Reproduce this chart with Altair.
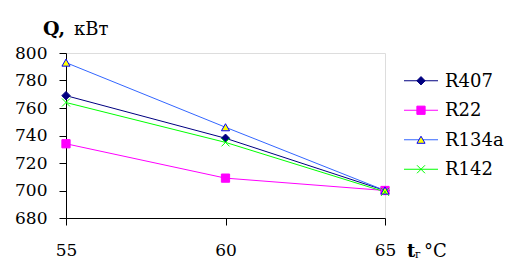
import altair as alt
import pandas as pd

# ---- data ----
temps = [55, 60, 65]
series_names = ["R407", "R22", "R134a", "R142"]
q_r407 = [769, 738, 700]
q_r22 = [734, 709, 700]
q_r134a = [793, 746, 700]
q_r142 = [764, 735, 699]
y_ticks = [680, 700, 720, 740, 760, 780, 800]

values = {"R407": q_r407, "R22": q_r22, "R134a": q_r134a, "R142": q_r142}
rows = []
for i, name in enumerate(series_names):
    for t, q in zip(temps, values[name]):
        rows.append({"series": name, "t": t, "q": q, "ord": i})
df = pd.DataFrame(rows)
legend_df = pd.DataFrame({"series": series_names, "ord": list(range(len(series_names)))})

# ---- styles ----
FONT = "DejaVu Serif"
line_colors = ["#000080", "#ff00ff", "#3366ff", "#00ff00"]
fill_colors = ["#000080", "#ff00ff", "#ffff00", "transparent"]
stroke_colors = ["#000080", "#ff00ff", "#0000ff", "#00ff00"]
X_PATH = "M-1,-1L1,1M-1,1L1,-1"
shapes = ["diamond", "square", "triangle-up", X_PATH]
sizes = [70, 64, 90, 64]

W, H = 319, 165

color_scale = alt.Scale(domain=series_names, range=line_colors)
fill_scale = alt.Scale(domain=series_names, range=fill_colors)
stroke_scale = alt.Scale(domain=series_names, range=stroke_colors)
shape_scale = alt.Scale(domain=series_names, range=shapes)
size_scale = alt.Scale(domain=series_names, range=sizes)

x_enc = alt.X(
    "t:Q",
    scale=alt.Scale(domain=[55, 65], nice=False),
    axis=alt.Axis(values=temps, title=None, grid=False, tickSize=7, labelPadding=17,
                  labelFont=FONT, labelFontSize=17, labelColor="black",
                  domainColor="black", tickColor="black", labelFlush=False),
)
y_enc = alt.Y(
    "q:Q",
    scale=alt.Scale(domain=[680, 800], nice=False, zero=False),
    axis=alt.Axis(values=y_ticks, title=None, grid=False, tickSize=7, labelPadding=12,
                  labelFont=FONT, labelFontSize=17, labelColor="black",
                  domainColor="black", tickColor="black"),
)

lines = alt.Chart(df).mark_line(strokeWidth=1).encode(
    x=x_enc, y=y_enc,
    color=alt.Color("series:N", scale=color_scale, legend=None),
    order="ord:Q",
)
points = alt.Chart(df).mark_point(filled=False, strokeWidth=1, opacity=1).encode(
    x=x_enc, y=y_enc,
    shape=alt.Shape("series:N", scale=shape_scale, legend=None),
    fill=alt.Fill("series:N", scale=fill_scale, legend=None),
    stroke=alt.Stroke("series:N", scale=stroke_scale, legend=None),
    size=alt.Size("series:N", scale=size_scale, legend=None),
    order="ord:Q",
)

# titles
title_q = alt.Chart(pd.DataFrame({"txt": ["Q,"]})).mark_text(
    font=FONT, fontSize=19, fontWeight="bold", align="left", baseline="alphabetic", color="black"
).encode(text="txt:N", x=alt.value(-23), y=alt.value(-18))
title_unit = alt.Chart(pd.DataFrame({"txt": ["кВт"]})).mark_text(
    font=FONT, fontSize=18, align="left", baseline="alphabetic", color="black"
).encode(text="txt:N", x=alt.value(8), y=alt.value(-18))
xl_t = alt.Chart(pd.DataFrame({"txt": ["t"]})).mark_text(
    font=FONT, fontSize=18, fontWeight="bold", align="left", baseline="alphabetic", color="black"
).encode(text="txt:N", x=alt.value(341), y=alt.value(204))
xl_sub = alt.Chart(pd.DataFrame({"txt": ["г"]})).mark_text(
    font=FONT, fontSize=11, align="left", baseline="alphabetic", color="black"
).encode(text="txt:N", x=alt.value(349), y=alt.value(205))
xl_c = alt.Chart(pd.DataFrame({"txt": ["°C"]})).mark_text(
    font=FONT, fontSize=18, align="left", baseline="alphabetic", color="black"
).encode(text="txt:N", x=alt.value(358), y=alt.value(204))

main = alt.layer(lines, points, title_q, title_unit, xl_t, xl_sub, xl_c)

# ---- manual legend ----
lx = alt.Scale(domain=[0, 1], range=[338, 372])
ly = alt.Y("series:N", scale=alt.Scale(type="point", domain=series_names, range=[13, 131]), axis=None)
leg_rule = alt.Chart(legend_df).mark_rule(strokeWidth=1).encode(
    x=alt.XDatum(0, scale=lx, axis=None), x2=alt.X2Datum(1), y=ly,
    color=alt.Color("series:N", scale=color_scale, legend=None),
)
leg_pts = alt.Chart(legend_df).mark_point(filled=False, strokeWidth=1, opacity=1).encode(
    x=alt.XDatum(0.5, scale=lx, axis=None), y=ly,
    shape=alt.Shape("series:N", scale=shape_scale, legend=None),
    fill=alt.Fill("series:N", scale=fill_scale, legend=None),
    stroke=alt.Stroke("series:N", scale=stroke_scale, legend=None),
    size=alt.Size("series:N", scale=size_scale, legend=None),
)
leg_txt = alt.Chart(legend_df).mark_text(
    font=FONT, fontSize=18, align="left", baseline="middle", dx=7, dy=1, color="black"
).encode(x=alt.XDatum(1, scale=lx, axis=None), y=ly, text="series:N")
legend = alt.layer(leg_rule, leg_pts, leg_txt)

chart = alt.layer(main, legend).resolve_scale(x="independent", y="independent").properties(
    width=W, height=H,
    autosize=alt.AutoSizeParams(type="none"),
    padding={"left": 58, "top": 45, "right": 126, "bottom": 42},
).configure_view(stroke="black", strokeWidth=1).configure(background="white")

chart.save("out.html", embed_options={"renderer": "svg", "actions": False})
